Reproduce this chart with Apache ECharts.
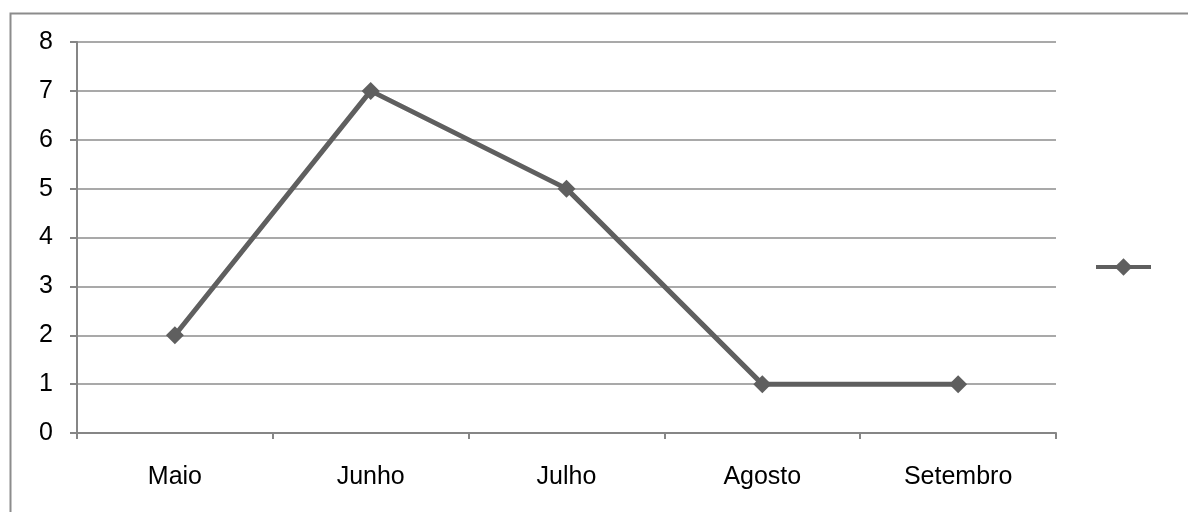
<!DOCTYPE html>
<html><head><meta charset="utf-8">
<script src="https://cdn.jsdelivr.net/npm/echarts@6/dist/echarts.min.js"></script>
<style>html,body{margin:0;padding:0;background:#fff}#c{width:1188px;height:512px}</style>
</head><body><div id="c"></div>
<script>
const categories = ['Maio', 'Junho', 'Julho', 'Agosto', 'Setembro'];
const values = [2, 7, 5, 1, 1];
const seriesName = ' ';
const chart = echarts.init(document.getElementById('c'));
chart.setOption({
  animation: false,
  textStyle: { fontFamily: 'Liberation Sans, Arial, sans-serif' },
  graphic: [{ type: 'rect', shape: { x: 10.5, y: 13.5, width: 1200, height: 520 }, style: { fill: 'none', stroke: '#8c8c8c', lineWidth: 2 }, silent: true, z: -1 }],
  legend: {
    right: 30, top: 251, orient: 'vertical',
    itemWidth: 55, itemHeight: 22,
    data: [seriesName],
    formatter: () => '',
    textStyle: { fontSize: 1 },
    lineStyle: { width: 4 }
  },
  grid: { left: 77, right: 132, top: 42, bottom: 79, containLabel: false },
  xAxis: {
    type: 'category', data: categories, boundaryGap: true,
    axisLine: { lineStyle: { color: '#868686', width: 2 } },
    axisTick: { show: true, length: 6, lineStyle: { color: '#868686', width: 2 } },
    axisLabel: { color: '#000', fontSize: 25, margin: 32 }
  },
  yAxis: {
    type: 'value', min: 0, max: 8, interval: 1,
    axisLine: { show: true, lineStyle: { color: '#868686', width: 2 } },
    axisTick: { show: true, length: 7, lineStyle: { color: '#868686', width: 2 } },
    axisLabel: { color: '#000', fontSize: 25, margin: 24 },
    splitLine: { lineStyle: { color: '#8c8c8c', width: 1.5 } }
  },
  series: [{
    name: seriesName, type: 'line', data: values,
    symbol: 'diamond', symbolSize: 18,
    lineStyle: { color: '#5f5f5f', width: 5 },
    itemStyle: { color: '#5f5f5f' }
  }]
});
</script></body></html>
